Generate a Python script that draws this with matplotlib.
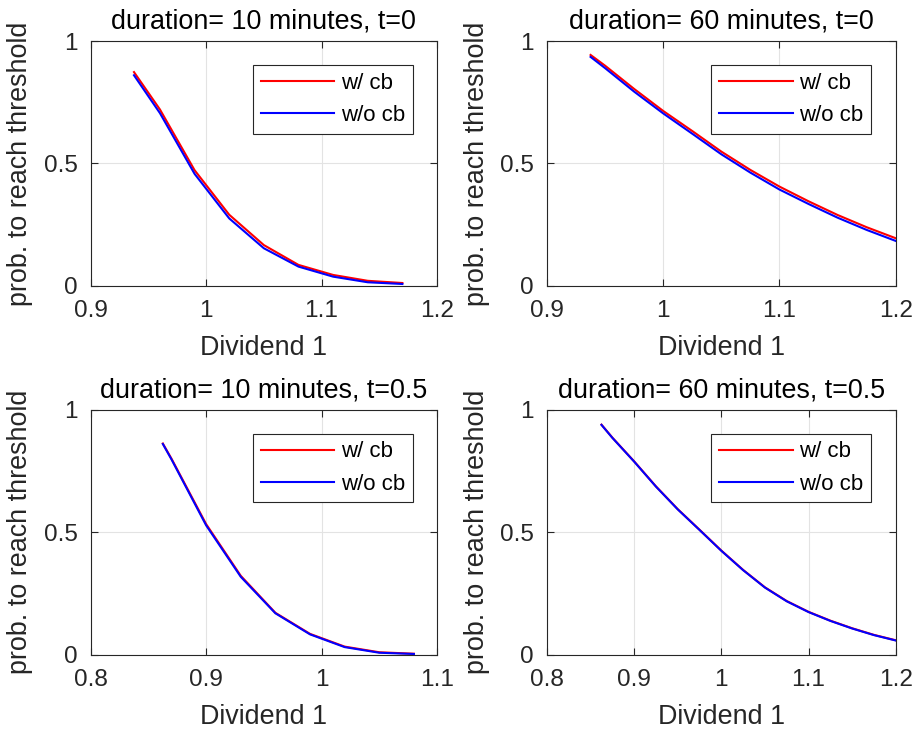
import matplotlib
matplotlib.use("Agg")
import matplotlib.pyplot as plt

plt.rcParams['font.family'] = ['Liberation Sans', 'DejaVu Sans']

# ---- data ----
titles = ["duration= 10 minutes, t=0", "duration= 60 minutes, t=0",
          "duration= 10 minutes, t=0.5", "duration= 60 minutes, t=0.5"]
series_names = ["w/ cb", "w/o cb"]

x_tl = [0.9375, 0.96, 0.99, 1.02, 1.05, 1.08, 1.11, 1.14, 1.17]
red_tl = [0.873, 0.72, 0.472, 0.29, 0.166, 0.085, 0.044, 0.02, 0.011]
blue_tl = [0.86, 0.705, 0.457, 0.275, 0.153, 0.078, 0.037, 0.014, 0.007]

x_tr = [0.9375, 0.95, 0.975, 1.0, 1.025, 1.05, 1.075, 1.1, 1.125, 1.15, 1.175, 1.2]
red_tr = [0.943, 0.899, 0.804, 0.714, 0.632, 0.548, 0.473, 0.405, 0.345, 0.289, 0.239, 0.194]
blue_tr = [0.935, 0.889, 0.793, 0.704, 0.621, 0.537, 0.462, 0.393, 0.334, 0.278, 0.228, 0.183]

x_bl = [0.8625, 0.87, 0.90, 0.93, 0.96, 0.99, 1.02, 1.05, 1.08]
red_bl = [0.862, 0.80, 0.533, 0.322, 0.171, 0.085, 0.033, 0.010, 0.004]
blue_bl = [0.860, 0.797, 0.528, 0.318, 0.169, 0.083, 0.031, 0.008, 0.003]

x_br = [0.8625, 0.875, 0.9, 0.925, 0.95, 0.975, 1.0, 1.025, 1.05, 1.075, 1.1, 1.125, 1.15, 1.175, 1.2]
red_br = [0.939, 0.886, 0.789, 0.687, 0.594, 0.510, 0.425, 0.346, 0.275, 0.219, 0.175, 0.139, 0.108, 0.081, 0.059]
blue_br = [0.938, 0.885, 0.788, 0.686, 0.593, 0.509, 0.424, 0.345, 0.274, 0.218, 0.174, 0.138, 0.107, 0.080, 0.058]

xlims = [(0.9, 1.2), (0.9, 1.2), (0.8, 1.1), (0.8, 1.2)]
xticks = [[0.9, 1.0, 1.1, 1.2], [0.9, 1.0, 1.1, 1.2], [0.8, 0.9, 1.0, 1.1], [0.8, 0.9, 1.0, 1.1, 1.2]]
xticklabels = [["0.9", "1", "1.1", "1.2"], ["0.9", "1", "1.1", "1.2"],
               ["0.8", "0.9", "1", "1.1"], ["0.8", "0.9", "1", "1.1", "1.2"]]
yticks = [0, 0.5, 1]
yticklabels = ["0", "0.5", "1"]
xlabel = "Dividend 1"
ylabel = "prob. to reach threshold"

xs = [x_tl, x_tr, x_bl, x_br]
reds = [red_tl, red_tr, red_bl, red_br]
blues = [blue_tl, blue_tr, blue_bl, blue_br]

W, H = 917, 733
fig = plt.figure(figsize=(W / 100, H / 100), dpi=100)

# axes boxes in pixels (left, top, right, bottom)
boxes = [(90.7, 41, 437, 285.7), (547, 41, 895.7, 285.7),
         (90.7, 409.7, 437, 654.7), (547, 409.7, 895.7, 654.7)]

FS_TICK = 17.6
FS_LAB = 19.4
FS_LEG = 16
dark = '#262626'
for i in range(4):
    l, t, r, b = boxes[i]
    ax = fig.add_axes([l / W, 1 - b / H, (r - l) / W, (b - t) / H])
    ax.plot(xs[i], reds[i], color='#ff0000', lw=1.5, label=series_names[0])
    ax.plot(xs[i], blues[i], color='#0000ff', lw=1.5, label=series_names[1])
    ax.set_xlim(*xlims[i])
    ax.set_ylim(0, 1)
    ax.set_xticks(xticks[i])
    ax.set_xticklabels(xticklabels[i])
    ax.set_yticks(yticks)
    ax.set_yticklabels(yticklabels)
    ax.grid(True, color='#e3e3e3', lw=0.8)
    ax.set_axisbelow(True)
    ax.tick_params(direction='in', top=True, right=True, length=5, width=0.8,
                   colors=dark, labelsize=FS_TICK)
    ax.tick_params(axis='x', pad=10)
    ax.tick_params(axis='y', pad=9.5)
    for s in ax.spines.values():
        s.set_color(dark)
        s.set_linewidth(0.8)
    ax.set_title(titles[i], fontsize=FS_LAB, color='black', pad=9)
    ax.set_xlabel(xlabel, fontsize=FS_LAB, color=dark)
    ax.set_ylabel(ylabel, fontsize=FS_LAB, color=dark)
    ax.xaxis.set_label_coords(0.5, -0.2)
    ax.yaxis.set_label_coords(-0.167 if i % 2 == 0 else -0.164, 0.5)
    leg = ax.legend(loc='upper right', bbox_to_anchor=(0.93, 0.902), borderaxespad=0,
                    fontsize=FS_LEG, fancybox=False, framealpha=1, edgecolor=dark,
                    handlelength=3.3, handletextpad=0.3, labelspacing=0.5,
                    borderpad=0.35)
    leg.get_frame().set_linewidth(0.8)
    for txt in leg.get_texts():
        txt.set_color('black')

fig.savefig("out.png", dpi=100)
